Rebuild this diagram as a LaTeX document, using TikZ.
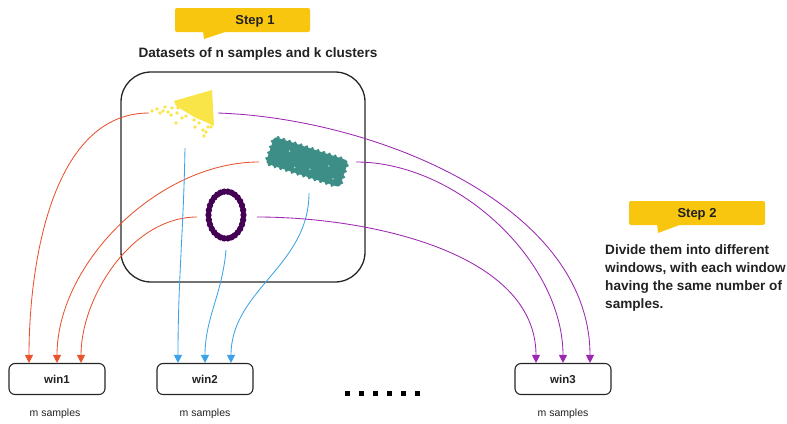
\documentclass[tikz,border=0pt]{standalone}
\usepackage{fontspec}
\setmainfont{Liberation Sans}
\usetikzlibrary{arrows.meta,calc}
\definecolor{callout}{HTML}{F8C50F}
\definecolor{redc}{HTML}{E8532E}
\definecolor{bluec}{HTML}{3DA3E8}
\definecolor{purc}{HTML}{9C27B0}
\definecolor{ringc}{HTML}{440154}
\definecolor{tealc}{HTML}{3E8E88}
\definecolor{yelc}{HTML}{F9E547}
\definecolor{txt}{HTML}{222222}
\begin{document}
\begin{tikzpicture}[x=1pt,y=-1pt,
  winbox/.style={draw=black!85,line width=1.1pt,rounded corners=6pt,minimum width=96pt,minimum height=31pt,font=\fontsize{11.5}{13}\selectfont\bfseries,text=txt},
  msamp/.style={font=\fontsize{10.5}{12}\selectfont,text=txt},
  conn/.style={line width=0.85pt,-{Triangle[length=8pt,width=8pt]}},
  calltext/.style={font=\fontsize{13}{15}\selectfont\bfseries,text=txt}]
\useasboundingbox (0,0) rectangle (787,423);
% Step 1 callout
\fill[callout,rounded corners=2pt] (175,8) rectangle (310,32);
\fill[callout] (203,31) -- (204,39) -- (228,31) -- cycle;
\node[calltext] (s1) at (255,21) {Step 1};
\node[font=\fontsize{13.6}{15}\selectfont\bfseries,text=txt] (title) at (258,54) {Datasets of n samples and k clusters};
% big box
\node[draw=black!85,line width=1.3pt,rounded corners=30pt,minimum width=244pt,minimum height=210pt] (big) at (243,177) {};
% yellow cluster
\fill[yelc] (174,101) -- (212,90) -- (214,126) -- (206,122) -- (196,118) -- (186,112) -- (176,106) -- cycle;
\foreach \p in {(152,111),(157,109),(160,113),(165,107),(168,112),(171,115),(172,108),(177,113),(176,123),(182,118),(186,116),(194,120),(195,127),(203,130),(206,132),(204,136),(211,127),(199,123),(208,127),(178,108),(163,111)}
  \fill[yelc] \p circle (1.9pt);
% teal cluster
\begin{scope}[shift={(307,162)},rotate=-18]
  \fill[tealc,rounded corners=3pt] (-39,-14) rectangle (39,14);
  \foreach \t in {-35,-29,...,35} {\fill[tealc] (\t,-14.3) circle (1.8pt); \fill[tealc] (\t,14.3) circle (1.8pt);}
  \foreach \t in {-9,-3,...,9} {\fill[tealc] (-39.3,\t) circle (1.8pt); \fill[tealc] (39.3,\t) circle (1.8pt);}
  \foreach \p in {(-20,-5),(5,6),(22,-3),(30,8),(-10,9)} \fill[white!60!tealc] \p circle (0.9pt);
\end{scope}
% purple ring
\draw[ringc,line width=4.5pt] (226,215) ellipse (17.5pt and 23.5pt);
\foreach \a in {0,12,...,348} \fill[ringc] ($(226,215)+(\a:17.5 and 23.5)$) circle (3.2pt);
% endpoints on clusters
\coordinate (yl) at (149,113);
\coordinate (yr) at (218,113);
\coordinate (yb) at (185,148);
\coordinate (tl) at (259,162);
\coordinate (tr) at (356,162);
\coordinate (tb) at (309,193);
\coordinate (rl) at (197,217);
\coordinate (rr) at (257,217);
\coordinate (rb) at (226,250);
% windows
\node[winbox] (w1) at (57,379) {win1};
\node[winbox] (w2) at (205,379) {win2};
\node[winbox] (w3) at (563,379) {win3};
\node[msamp] (m1) at (55,414) {m samples};
\node[msamp] (m2) at (205,414) {m samples};
\node[msamp] (m3) at (563,414) {m samples};
% dots
\foreach \x in {0,...,5} \fill[black] ($(345,391)+(\x*14,0)$) rectangle ++(4.5,4.5);
% arrow targets
\coordinate (w1a) at ($(w1.north)+(-28,0)$);
\coordinate (w1b) at (w1.north);
\coordinate (w1c) at ($(w1.north)+(24,0)$);
\coordinate (w2a) at ($(w2.north)+(-27,0)$);
\coordinate (w2b) at (w2.north);
\coordinate (w2c) at ($(w2.north)+(26,0)$);
\coordinate (w3a) at ($(w3.north)+(-27,0)$);
\coordinate (w3b) at (w3.north);
\coordinate (w3c) at ($(w3.north)+(27,0)$);
% red
\draw[conn,redc] (yl) to[out=180,in=90,looseness=0.9] (w1a);
\draw[conn,redc] (tl) to[out=180,in=90,looseness=0.9] (w1b);
\draw[conn,redc] (rl) to[out=180,in=90,looseness=0.9] (w1c);
% blue
\draw[conn,bluec] (yb) to[out=-91,in=90] (w2a);
\draw[conn,bluec] (rb) to[out=-95,in=90] (w2b);
\draw[conn,bluec] (tb) to[out=-90,in=90] (w2c);
% purple
\draw[conn,purc] (yr) to[out=-2,in=90,looseness=0.9] (w3c);
\draw[conn,purc] (tr) to[out=0,in=90,looseness=0.9] (w3b);
\draw[conn,purc] (rr) to[out=0,in=90,looseness=0.9] (w3a);
% Step 2 callout
\fill[callout,rounded corners=2pt] (629,201) rectangle (765,225);
\fill[callout] (657,224) -- (658,233) -- (682,224) -- cycle;
\node[calltext] (s2) at (697,214) {Step 2};
\node[anchor=north west,align=left,inner sep=0pt,font=\fontsize{13.6}{18}\selectfont\bfseries,text=txt] (desc) at (605,244) {Divide them into different\\windows, with each window\\having the same number of\\samples.};
\end{tikzpicture}
\end{document}
